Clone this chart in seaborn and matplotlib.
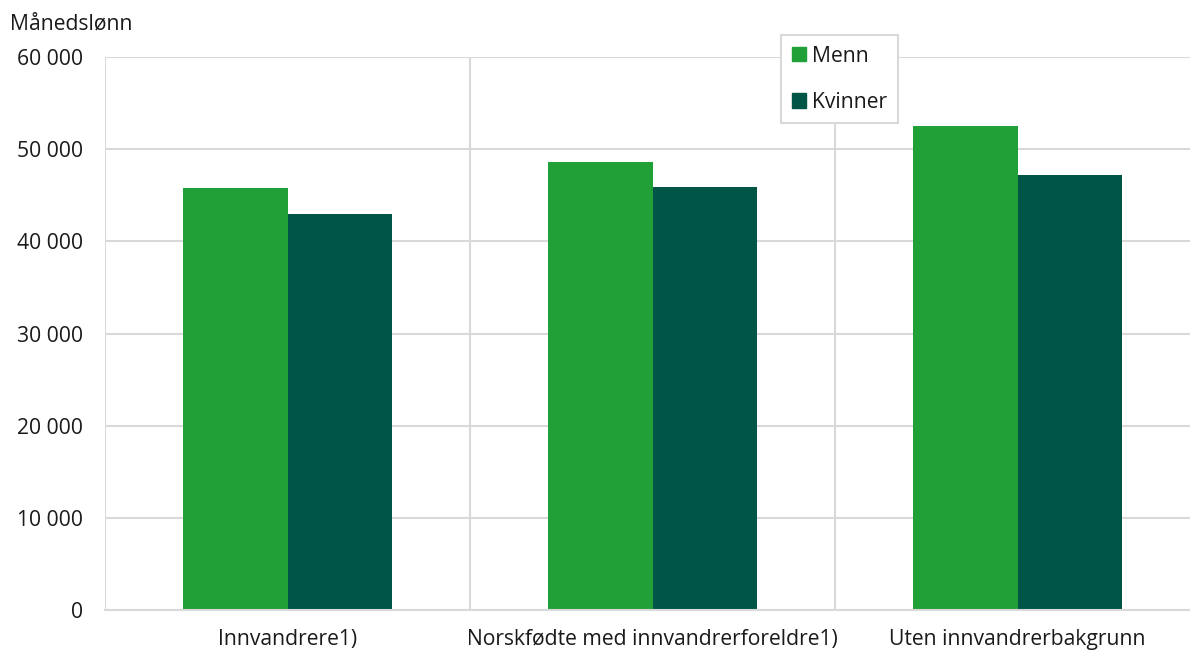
import numpy as np
import pandas as pd
import matplotlib
matplotlib.use("Agg")
import matplotlib.pyplot as plt
import seaborn as sns
from matplotlib.ticker import FuncFormatter, FixedLocator

# ── Données ────────────────────────────────────────────────────────────────
grupper = ["Innvandrere1)", "Norskfødte med innvandrerforeldre1)", "Uten innvandrerbakgrunn"]
menn    = [45800, 48600, 52500]
kvinner = [43000, 45900, 47200]
kjonn   = ["Menn", "Kvinner"]
farger  = ["#21a038", "#005646"]

df = pd.DataFrame({
    "gruppe": grupper * 2,
    "kjonn": ["Menn"] * 3 + ["Kvinner"] * 3,
    "lonn": menn + kvinner,
})

sns.set_theme(style="white")
plt.rcParams["font.family"] = ["Open Sans", "DejaVu Sans"]
tekst = "#1a1a1a"
grid = "#d9d9d9"
fs = 15.2

fig = plt.figure(figsize=(11.9, 6.51), dpi=100)
ax = fig.add_axes([105 / 1190, 41 / 651, 1095 / 1190, 553 / 651])

sns.barplot(data=df, x="gruppe", y="lonn", hue="kjonn", hue_order=kjonn,
            palette=farger, width=0.57, gap=0, saturation=1, linewidth=0,
            ax=ax, legend=False)

ax.set_ylim(0, 60000)
ax.set_xlim(-0.5, 2.5)
ax.yaxis.set_major_locator(FixedLocator(np.arange(0, 60001, 10000)))
ax.yaxis.set_major_formatter(FuncFormatter(lambda v, p: f"{int(v):,}".replace(",", " ")))
ax.xaxis.set_minor_locator(FixedLocator([-0.5, 0.5, 1.5, 2.5]))
ax.grid(axis="y", which="major", color=grid, linewidth=1.5)
ax.grid(axis="x", which="minor", color=grid, linewidth=1.5)
ax.set_axisbelow(True)
for s in ["top", "right", "left"]:
    ax.spines[s].set_visible(False)
ax.spines["bottom"].set_color(grid)
ax.spines["bottom"].set_linewidth(1.5)
ax.tick_params(axis="both", which="both", length=0, labelsize=fs, colors=tekst)
ax.tick_params(axis="x", pad=14)
ax.tick_params(axis="y", pad=16)
ax.set_xlabel("")
ax.set_ylabel("")

fig.text(10 / 1190, 1 - 24 / 651, "Månedslønn", fontsize=fs, color=tekst, va="center")

handles = [plt.Rectangle((0, 0), 1, 1, color=c) for c in farger]
leg = fig.legend(handles, kjonn, loc="upper left", bbox_to_anchor=(781 / 1190, 1 - 35 / 651),
                 borderaxespad=0, fontsize=fs, frameon=True, fancybox=False, framealpha=1,
                 handlelength=0.68, handleheight=0.68, handletextpad=0.3,
                 labelspacing=1.2, borderpad=0.5, labelcolor=tekst)
leg.get_frame().set_edgecolor(grid)
leg.get_frame().set_linewidth(1.5)

fig.savefig("out.png", dpi=100)
